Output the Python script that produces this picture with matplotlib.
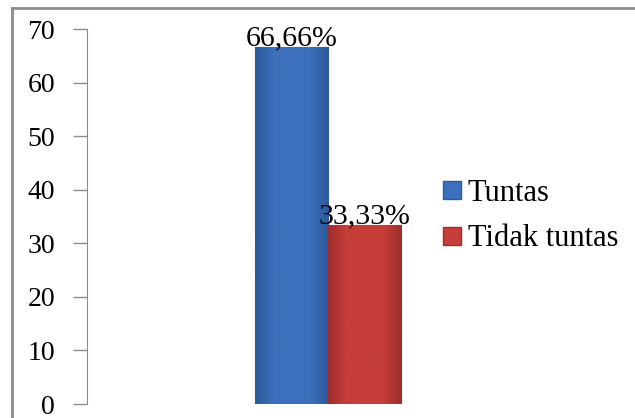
import numpy as np
import matplotlib
matplotlib.use("Agg")
import matplotlib.pyplot as plt
from matplotlib.lines import Line2D
from matplotlib.colors import LinearSegmentedColormap

# data
categories = ["Tuntas", "Tidak tuntas"]
values = [66.66, 33.33]
labels = ["66,66%", "33,33%"]
colors = ["#3C70BC", "#C53E3A"]
dark = ["#2C5A9A", "#9E2E2B"]
yticks = [0, 10, 20, 30, 40, 50, 60, 70]

plt.rcParams['font.family'] = ['Liberation Serif', 'DejaVu Serif']

fig = plt.figure(figsize=(6.35, 4.18), dpi=100)
ax = fig.add_axes([87/635, 14/418, 482/635, 375/418])

w = 0.152
xs = [-w/2, w/2]
bars = ax.bar(xs, values, width=w, color=colors, edgecolor=dark, linewidth=0.8, zorder=2)

# soft shading on the bars
for b, c, d in zip(bars, colors, dark):
    cmap = LinearSegmentedColormap.from_list("g", [d, c, c, c, d])
    grad = np.linspace(0, 1, 64).reshape(1, -1)
    x0, y0 = b.get_x(), b.get_y()
    im = ax.imshow(grad, cmap=cmap, aspect='auto', zorder=2.5,
                   extent=[x0, x0 + b.get_width(), y0, y0 + b.get_height()])
    im.set_clip_path(b)

for x, v, t in zip(xs, values, labels):
    ax.text(x, v + 0.3, t, ha='center', va='baseline', fontsize=21.5, zorder=5)

ax.set_xlim(-0.5, 0.5)
ax.set_ylim(0, 70)
ax.set_yticks(yticks)
ax.set_xticks([])
for s in ['top', 'right', 'bottom']:
    ax.spines[s].set_visible(False)
ax.spines['left'].set_color('#8C8C8C')
ax.tick_params(axis='y', direction='out', length=10, width=1, color='#8C8C8C',
               pad=13, labelsize=20)

handles = [Line2D([], [], marker='s', linestyle='none', markersize=12.5,
                  markerfacecolor=c, markeredgecolor=d) for c, d in zip(colors, dark)]
fig.legend(handles, categories, loc='center left', bbox_to_anchor=(428/635, 1 - 216/418),
           frameon=False, fontsize=22, handlelength=0.6, handletextpad=0.2,
           labelspacing=0.55, borderpad=0)

# outer chart border (cropped on right and bottom)
fig.add_artist(Line2D([12/635, 12/635], [0, 1 - 8/418], color='#8C8C8C', lw=2))
fig.add_artist(Line2D([12/635, 1], [1 - 8/418, 1 - 8/418], color='#8C8C8C', lw=2))

fig.savefig("out.png", dpi=100)
